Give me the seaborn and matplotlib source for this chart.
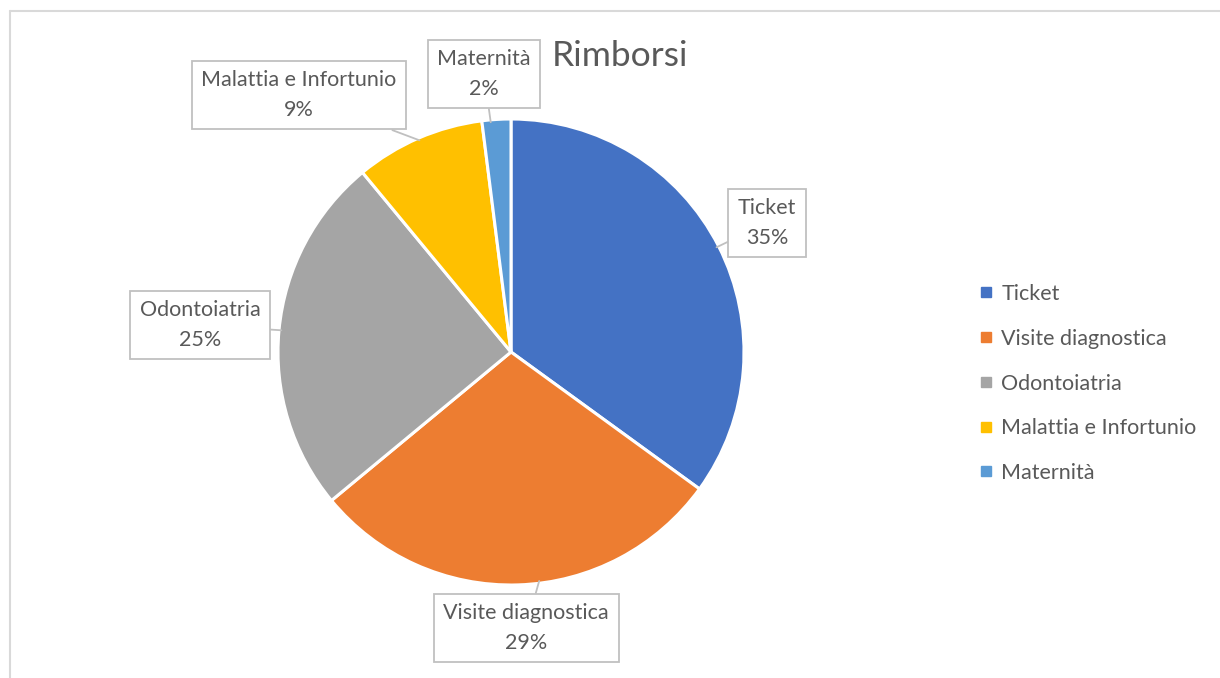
import matplotlib
matplotlib.use("Agg")
import matplotlib.pyplot as plt
import seaborn as sns
import numpy as np
from matplotlib.lines import Line2D

categories = ["Ticket", "Visite diagnostica", "Odontoiatria", "Malattia e Infortunio", "Maternità"]
values = [35, 29, 25, 9, 2]
labels_pct = ["35%", "29%", "25%", "9%", "2%"]
colors = ["#4472C4", "#ED7D31", "#A5A5A5", "#FFC000", "#5B9BD5"]

sns.set_theme(style="white")
plt.rcParams["font.family"] = ["Lato", "DejaVu Sans"]
TXT = "#595959"

W, H = 1220, 678
fig = plt.figure(figsize=(W / 100, H / 100), dpi=100)
fig.patch.set_facecolor("white")

cx, cy, R = 511, 352, 233
ax = fig.add_axes([(cx - R) / W, (H - cy - R) / H, 2 * R / W, 2 * R / H])
wedges, _ = ax.pie(values, colors=colors, startangle=90, counterclock=False,
                   radius=1.0, wedgeprops=dict(edgecolor="white", linewidth=2.2))
ax.set_xlim(-1, 1)
ax.set_ylim(-1, 1)
ax.set_aspect("equal")
ax.axis("off")

# label box centers (pixels) and where on the wedge arc the pointer lands (fraction of wedge span)
box_px = [(767, 223), (526, 628), (200, 325), (299, 95), (484, 74)]
frac = [0.5, 0.55, 0.5, 0.5, 0.7]
for w, cat, pct, (bx, by), f in zip(wedges, categories, labels_pct, box_px, frac):
    ang = np.deg2rad(w.theta1 + f * (w.theta2 - w.theta1))
    tx, ty = np.cos(ang) * 0.99, np.sin(ang) * 0.99
    ax.annotate(f"{cat}\n{pct}", xy=(tx, ty),
                xytext=((bx - cx) / R, (cy - by) / R), textcoords="data",
                ha="center", va="center", fontsize=15.5, color=TXT, linespacing=1.6,
                bbox=dict(boxstyle="square,pad=0.45", fc="white", ec="#c0c0c0", lw=1.3),
                arrowprops=dict(arrowstyle="-", color="#c0c0c0", lw=1.3,
                                shrinkA=0, shrinkB=0),
                annotation_clip=False)

fig.text(620 / W, 1 - 56 / H, "Rimborsi", ha="center", va="center",
         fontsize=25.5, color=TXT)

handles = [Line2D([], [], linestyle="none", marker="s", markersize=7,
                  markerfacecolor=c, markeredgecolor=c) for c in colors]
fig.legend(handles, categories, loc="upper left", bbox_to_anchor=(981 / W, 1 - 284 / H),
           frameon=False, fontsize=15.5, labelcolor=TXT, handlelength=0.5,
           handletextpad=0.45, labelspacing=1.15, borderpad=0, borderaxespad=0)

# chart area border (top and left edges visible)
fig.add_artist(Line2D([10 / W, 10 / W], [0, 1 - 11 / H], transform=fig.transFigure,
                      color="#d9d9d9", lw=1.5))
fig.add_artist(Line2D([10 / W, 1], [1 - 11 / H, 1 - 11 / H], transform=fig.transFigure,
                      color="#d9d9d9", lw=1.5))

fig.savefig("out.png", dpi=100, facecolor="white")
